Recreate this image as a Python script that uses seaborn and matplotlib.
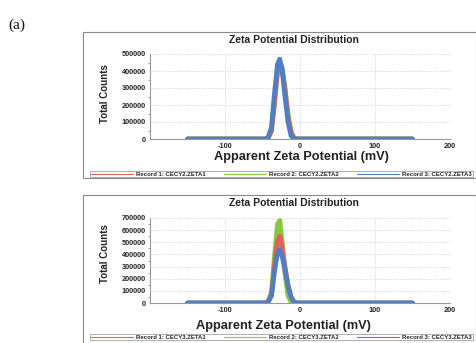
import numpy as np
import pandas as pd
import matplotlib
matplotlib.use("Agg")
import matplotlib.pyplot as plt
import seaborn as sns
from matplotlib.lines import Line2D
from matplotlib.patches import Rectangle

# ---- data ----
zeta_mv = [-150, -48, -43, -38, -34, -30, -27, -24, -20, -16, -12, -8, -4, 150]

top_record1 = [0, 0, 2000, 50000, 220000, 400000, 450000, 420000, 290000, 130000, 35000, 4000, 0, 0]
top_record2 = [0, 0, 2000, 45000, 210000, 390000, 440000, 420000, 300000, 150000, 50000, 8000, 0, 0]
top_record3 = [0, 0, 3000, 70000, 270000, 440000, 470000, 410000, 250000, 100000, 20000, 1000, 0, 0]

bot_record1 = [0, 0, 3000, 70000, 310000, 510000, 550000, 460000, 300000, 150000, 50000, 8000, 0, 0]
bot_record2 = [0, 0, 4000, 90000, 390000, 650000, 680000, 520000, 240000, 60000, 10000, 0, 0, 0]
bot_record3 = [0, 0, 3000, 60000, 260000, 410000, 440000, 390000, 270000, 140000, 50000, 8000, 0, 0]

top_labels = ["Record 1: CECY2.ZETA1", "Record 2: CECY2.ZETA2", "Record 3: CECY2.ZETA3"]
bot_labels = ["Record 1: CECY3.ZETA1", "Record 2: CECY3.ZETA2", "Record 3: CECY3.ZETA3"]

x_ticks = [-100, 0, 100, 200]
top_yticks = [0, 100000, 200000, 300000, 400000, 500000]
bot_yticks = [0, 100000, 200000, 300000, 400000, 500000, 600000, 700000]

colors = ["#e0605a", "#8cc63f", "#4f7fc0"]

sns.set_theme(style="white")
plt.rcParams['font.family'] = ['Liberation Sans', 'DejaVu Sans']

W, H = 477, 343
fig = plt.figure(figsize=(W / 100, H / 100), dpi=100)
fig.patch.set_facecolor("white")


def fx(px):
    return px / W


def fy(py):
    return 1 - py / H


def panel(series, labels, yticks, ax_top, ax_bot, box_top, box_bot,
          title_y, xlabel_y, xlabel_x, ylabel_y, legend_y):
    # panel frame
    fig.patches.append(Rectangle((fx(83), fy(box_bot)), fx(476) - fx(83), fy(box_top) - fy(box_bot),
                                 transform=fig.transFigure, fill=False, edgecolor="#8a8a8a", linewidth=0.8))
    ax = fig.add_axes([fx(150), fy(ax_bot), fx(450) - fx(150), fy(ax_top) - fy(ax_bot)])
    rows = []
    for lab, vals in zip(labels, series):
        for xv, yv in zip(zeta_mv, vals):
            rows.append({"zeta": xv, "counts": yv, "record": lab})
    df = pd.DataFrame(rows)
    pal = dict(zip(labels, colors))
    draw_order = [labels[1], labels[0], labels[2]]
    sns.lineplot(data=df, x="zeta", y="counts", hue="record", hue_order=draw_order,
                 palette=pal, linewidth=3.4, ax=ax, legend=False)
    ax.set_xlim(-200, 200)
    ax.set_ylim(0, yticks[-1])
    ax.set_xticks(x_ticks)
    ax.set_xticklabels([str(t) for t in x_ticks])
    ax.set_yticks(yticks)
    ax.set_yticklabels([str(t) for t in yticks])
    ax.set_yticks([t + (yticks[1] - yticks[0]) / 2 for t in yticks[:-1]], minor=True)
    ax.tick_params(axis="both", which="major", labelsize=5.3, length=2, width=0.6, pad=1, color="#777777")
    ax.tick_params(axis="y", which="minor", length=1.5, width=0.5, color="#777777", left=True)
    for lab in ax.get_xticklabels() + ax.get_yticklabels():
        lab.set_fontweight("bold")
    ax.grid(True, linestyle=":", color="#c8c8c8", linewidth=0.6)
    ax.set_axisbelow(True)
    for s in ["top", "right"]:
        ax.spines[s].set_visible(False)
    for s in ["left", "bottom"]:
        ax.spines[s].set_color("#9a9a9a")
        ax.spines[s].set_linewidth(0.8)
    ax.set_xlabel("")
    ax.set_ylabel("")
    ax.set_facecolor("white")
    fig.text(fx(294), fy(title_y), "Zeta Potential Distribution", ha="center", va="center",
             fontsize=7.5, fontweight="bold", color="#222222")
    fig.text(fx(xlabel_x), fy(xlabel_y), "Apparent Zeta Potential (mV)", ha="center", va="center",
             fontsize=9.2, fontweight="bold", color="#222222")
    fig.text(fx(105), fy(ylabel_y), "Total Counts", ha="center", va="center", rotation=90,
             fontsize=7, fontweight="bold", color="#222222")
    handles = [Line2D([0], [0], color=c, linewidth=0.8) for c in colors]
    leg = fig.legend(handles, labels, loc="center",
                     bbox_to_anchor=(fx(90), fy(legend_y + 4), fx(473) - fx(90), 8 / H),
                     mode="expand", ncol=3, fontsize=4.3, frameon=True, fancybox=False,
                     edgecolor="#8a8a8a", borderpad=0.15, handlelength=7, handletextpad=0.6,
                     columnspacing=2.0, borderaxespad=0)
    leg.get_frame().set_linewidth(0.6)
    for t in leg.get_texts():
        t.set_fontweight("bold")
    return ax


panel([top_record1, top_record2, top_record3], top_labels, top_yticks,
      ax_top=54, ax_bot=139, box_top=32, box_bot=178,
      title_y=40, xlabel_y=157, xlabel_x=301, ylabel_y=94, legend_y=174)

panel([bot_record1, bot_record2, bot_record3], bot_labels, bot_yticks,
      ax_top=218, ax_bot=303, box_top=195, box_bot=345,
      title_y=203, xlabel_y=326, xlabel_x=283, ylabel_y=254, legend_y=337)

fig.text(fx(8), fy(25), "(a)", ha="left", va="center", fontsize=11,
         family=["Liberation Serif", "DejaVu Serif"], color="#111111")

fig.savefig("out.png", dpi=100, facecolor="white")
